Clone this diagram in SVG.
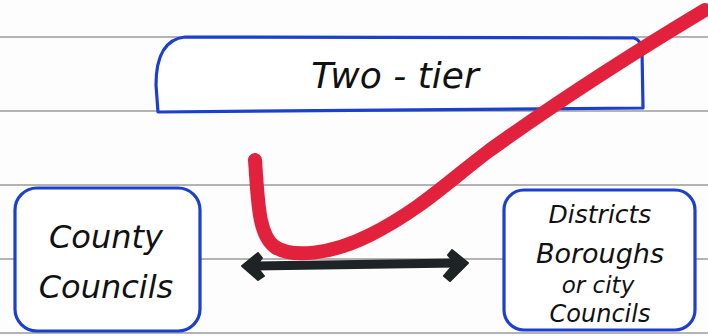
<svg xmlns="http://www.w3.org/2000/svg" width="708" height="336" viewBox="0 0 708 336">
<defs>
<style>
.rule{stroke:#9a9a9a;stroke-width:1.6;fill:none}
.box{fill:#fff;stroke:#1b3fcf;stroke-width:3.2;stroke-linejoin:round}
.t{font-family:"DejaVu Sans","Liberation Sans",sans-serif;font-style:italic;fill:#111;text-anchor:middle}
.arrow{stroke:#1e2426;stroke-width:9;fill:none;stroke-linecap:round}
.head{fill:#1e2426;stroke:#1e2426;stroke-width:2;stroke-linejoin:round}
.check{stroke:#e2213c;stroke-width:14;fill:none;stroke-linecap:round;stroke-linejoin:round}
</style>
</defs>
<rect width="708" height="336" fill="#fdfdfd"/>
<g id="rules">
<line class="rule" x1="0" y1="37" x2="708" y2="37"/>
<line class="rule" x1="0" y1="111" x2="708" y2="111"/>
<line class="rule" x1="0" y1="185" x2="708" y2="185"/>
<line class="rule" x1="0" y1="259" x2="708" y2="259"/>
<line class="rule" x1="0" y1="333" x2="708" y2="333"/>
</g>
<g id="two-tier">
<path class="box" d="M185,37 L634,38 Q641,40 642,50 L643,108 L158,112 L156,85 Q156,40 185,37 Z"/>
<text class="t" x="395" y="88" font-size="36">Two - tier</text>
</g>
<g id="county">
<rect class="box" x="15" y="188" width="185" height="143" rx="22"/>
<text class="t" x="106" y="248" font-size="32">County</text>
<text class="t" x="106" y="298" font-size="32">Councils</text>
</g>
<g id="districts">
<rect class="box" x="504" y="190" width="191" height="140" rx="20"/>
<text class="t" x="600" y="223" font-size="25">Districts</text>
<text class="t" x="600" y="263" font-size="27">Boroughs</text>
<text class="t" x="598" y="293" font-size="23">or city</text>
<text class="t" x="600" y="322" font-size="24">Councils</text>
</g>
<g id="connectors">
<line class="arrow" x1="250" y1="266" x2="458" y2="263"/>
<path class="head" d="M242,266 L258,253 L262,258 L256,266 L264,276 L258,280 Z"/>
<path class="head" d="M468,263 L452,250 L448,255 L455,263 L444,276 L450,281 Z"/>
</g>
<g id="check">
<path class="check" d="M255,160 C258,200 258,235 275,247 C292,258 330,255 370,235 C420,210 450,180 490,150 C560,100 630,55 705,10"/>
</g>
</svg>
